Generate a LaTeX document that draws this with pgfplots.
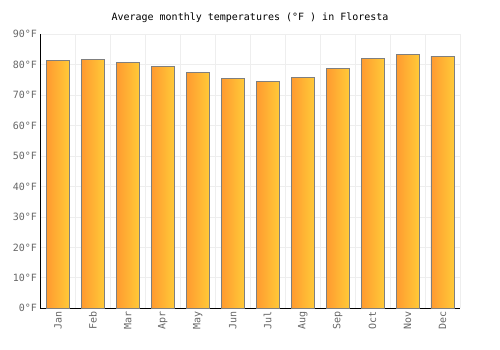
\documentclass[border=0pt]{standalone}
\usepackage{fontspec}
\setmainfont{DejaVu Sans Mono}
\usepackage{pgfplots}
\pgfplotsset{compat=1.18}
\definecolor{barL}{HTML}{FF9A30}
\definecolor{barR}{HTML}{FFCA38}
\definecolor{gridc}{HTML}{EEEEEE}
\definecolor{tickc}{HTML}{666666}
\definecolor{edgec}{HTML}{7F7F7F}
\begin{document}
\begin{tikzpicture}
\path[use as bounding box] (0,0) rectangle (500pt,350pt);
\node[font=\fontsize{10}{12}\selectfont, anchor=center] at (250pt,332.5pt) {Average monthly temperatures (°F ) in Floresta};
\begin{axis}[
  at={(40.5pt,41.7pt)}, anchor=south west,
  width=419.5pt, height=274pt, scale only axis=true,
  xmin=-0.5, xmax=11.5, ymin=0, ymax=90,
  axis x line*=bottom, axis y line*=left,
  axis line style={black, line width=0.8pt, -},
  xtick={0,...,11},
  xticklabels={Jan,Feb,Mar,Apr,May,Jun,Jul,Aug,Sep,Oct,Nov,Dec},
  minor xtick={-0.5,0.5,...,11.5},
  ytick={0,10,...,90},
  yticklabels={0°F,10°F,20°F,30°F,40°F,50°F,60°F,70°F,80°F,90°F},
  major tick length=0pt, minor tick length=0pt,
  ymajorgrids=true, xminorgrids=true,
  grid style={gridc, line width=0.8pt},
  minor grid style={gridc, line width=0.8pt},
  x tick label style={rotate=90, anchor=east, font=\fontsize{10}{12}\selectfont, text=tickc},
  y tick label style={font=\fontsize{10}{12}\selectfont, text=tickc},
  clip=false,
  ybar, bar width=0.66, bar shift=0pt,
  mybar/.style={ybar, bar width=0.66, bar shift=0pt, draw=edgec, line width=0.8pt, left color=barL, right color=barR},
]
\addplot[mybar] coordinates {(0,81.5)};
\addplot[mybar] coordinates {(1,81.8)};
\addplot[mybar] coordinates {(2,80.8)};
\addplot[mybar] coordinates {(3,79.5)};
\addplot[mybar] coordinates {(4,77.5)};
\addplot[mybar] coordinates {(5,75.6)};
\addplot[mybar] coordinates {(6,74.6)};
\addplot[mybar] coordinates {(7,75.9)};
\addplot[mybar] coordinates {(8,78.8)};
\addplot[mybar] coordinates {(9,82.1)};
\addplot[mybar] coordinates {(10,83.4)};
\addplot[mybar] coordinates {(11,82.8)};
\end{axis}
\end{tikzpicture}
\end{document}
